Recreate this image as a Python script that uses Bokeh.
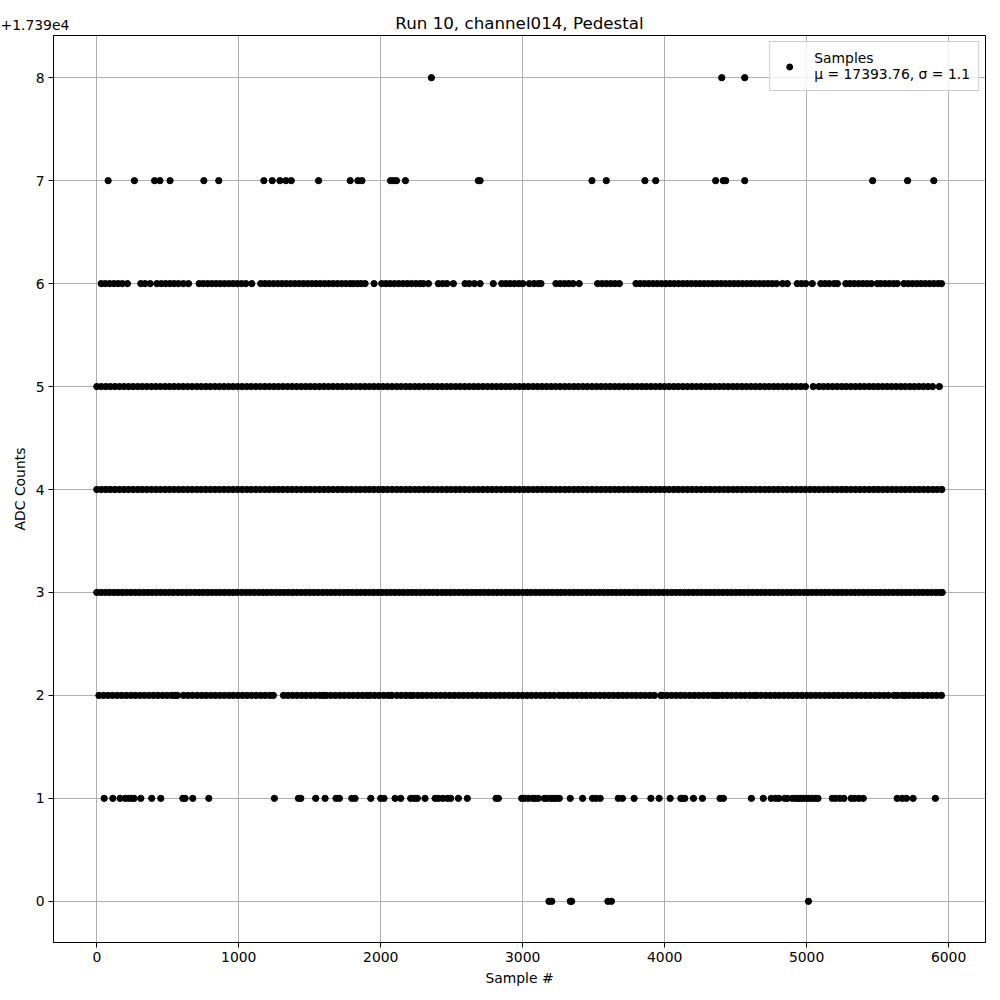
from bokeh.plotting import figure
from bokeh.models import (ColumnDataSource, Range1d, FixedTicker, CustomJSTickFormatter,
                          Label, Legend, LegendItem)
from bokeh.embed import file_html
from bokeh.resources import INLINE

# ---------------- data ----------------
BASE = 17390
TITLE = "Run 10, channel014, Pedestal"
X_LABEL = "Sample #"
Y_LABEL = "ADC Counts"
OFFSET_TEXT = "+1.739e4"
LEGEND_TEXT = "Samples\nμ = 17393.76, σ = 1.1"
x_ticks = [0, 1000, 2000, 3000, 4000, 5000, 6000]
y_ticks = [17390, 17391, 17392, 17393, 17394, 17395, 17396, 17397, 17398]

# sample indices of samples at each ADC value
samples_17398 = [2357, 4402, 4564]
samples_17397 = [80, 265, 407, 445, 516, 754, 859, 1177, 1236, 1290, 1332, 1370, 1562, 1785,
                 1839, 1868, 2069, 2090, 2111, 2174, 2688, 2700, 3488, 3589, 3861, 3937, 4359,
                 4413, 4430, 4564, 5465, 5711, 5896]
samples_17396 = [31, 60, 90, 120, 150, 180, 216, 310, 340, 376, 423, 455, 485, 515, 545, 575, 610,
                 646, 721, 750, 780, 810, 840, 870, 900, 930, 960, 990, 1020, 1050, 1092, 1155,
                 1185, 1215, 1245, 1275, 1305, 1335, 1365, 1395, 1425, 1455, 1485, 1515, 1545,
                 1575, 1605, 1635, 1665, 1695, 1725, 1755, 1785, 1808, 1836, 1862, 1890, 1953,
                 2007, 2037, 2067, 2097, 2127, 2157, 2187, 2217, 2247, 2277, 2300, 2336, 2406,
                 2436, 2466, 2512, 2594, 2624, 2660, 2700, 2793, 2852, 2882, 2912, 2942, 2972,
                 3000, 3047, 3080, 3110, 3129, 3234, 3265, 3295, 3325, 3355, 3398, 3528, 3560,
                 3590, 3620, 3650, 3681, 3798, 3828, 3858, 3888, 3918, 3948, 3978, 4008, 4038,
                 4068, 4098, 4128, 4158, 4188, 4218, 4248, 4278, 4308, 4338, 4368, 4398, 4428,
                 4458, 4488, 4518, 4548, 4578, 4608, 4638, 4668, 4698, 4728, 4758, 4788, 4830,
                 4864, 4934, 4964, 4994, 5040, 5100, 5130, 5160, 5194, 5217, 5276, 5306, 5336,
                 5366, 5396, 5426, 5456, 5498, 5522, 5552, 5582, 5612, 5639, 5686, 5716, 5746,
                 5776, 5806, 5836, 5866, 5896, 5926, 5950]
samples_17395 = [0, 32, 64, 96, 128, 160, 192, 224, 256, 288, 320, 352, 384, 416, 448, 480, 512,
                 544, 576, 608, 640, 672, 704, 736, 768, 800, 832, 864, 896, 928, 960, 992, 1024,
                 1056, 1088, 1120, 1152, 1184, 1216, 1248, 1280, 1312, 1344, 1376, 1408, 1440,
                 1472, 1504, 1536, 1568, 1600, 1632, 1664, 1696, 1728, 1760, 1792, 1824, 1856,
                 1888, 1920, 1952, 1984, 2016, 2048, 2080, 2112, 2144, 2176, 2208, 2240, 2272,
                 2304, 2336, 2368, 2400, 2432, 2464, 2496, 2528, 2560, 2592, 2624, 2656, 2688,
                 2720, 2752, 2784, 2816, 2848, 2880, 2912, 2944, 2976, 3008, 3040, 3072, 3104,
                 3136, 3168, 3200, 3232, 3264, 3296, 3328, 3360, 3392, 3424, 3456, 3488, 3520,
                 3552, 3584, 3616, 3648, 3680, 3712, 3744, 3776, 3808, 3840, 3872, 3904, 3936,
                 3968, 4000, 4032, 4064, 4096, 4128, 4160, 4192, 4224, 4256, 4288, 4320, 4352,
                 4384, 4416, 4448, 4480, 4512, 4544, 4576, 4608, 4640, 4672, 4704, 4736, 4768,
                 4800, 4832, 4864, 4896, 4928, 4960, 4992, 5047, 5087, 5119, 5151, 5183, 5215,
                 5247, 5279, 5311, 5343, 5375, 5407, 5439, 5471, 5503, 5535, 5567, 5599, 5631,
                 5663, 5695, 5727, 5759, 5791, 5823, 5855, 5887, 5935]
samples_17394 = [0, 32, 64, 96, 128, 160, 192, 224, 256, 288, 320, 352, 384, 416, 448, 480, 512,
                 544, 576, 608, 640, 672, 704, 736, 768, 800, 832, 864, 896, 928, 960, 992, 1024,
                 1056, 1088, 1120, 1152, 1184, 1216, 1248, 1280, 1312, 1344, 1376, 1408, 1440,
                 1472, 1504, 1536, 1568, 1600, 1632, 1664, 1696, 1728, 1760, 1792, 1824, 1856,
                 1888, 1920, 1952, 1984, 2016, 2048, 2080, 2112, 2144, 2176, 2208, 2240, 2272,
                 2304, 2336, 2368, 2400, 2432, 2464, 2496, 2528, 2560, 2592, 2624, 2656, 2688,
                 2720, 2752, 2784, 2816, 2848, 2880, 2912, 2944, 2976, 3008, 3040, 3072, 3104,
                 3136, 3168, 3200, 3232, 3264, 3296, 3328, 3360, 3392, 3424, 3456, 3488, 3520,
                 3552, 3584, 3616, 3648, 3680, 3712, 3744, 3776, 3808, 3840, 3872, 3904, 3936,
                 3968, 4000, 4032, 4064, 4096, 4128, 4160, 4192, 4224, 4256, 4288, 4320, 4352,
                 4384, 4416, 4448, 4480, 4512, 4544, 4576, 4608, 4640, 4672, 4704, 4736, 4768,
                 4800, 4832, 4864, 4896, 4928, 4960, 4992, 5024, 5056, 5088, 5120, 5152, 5184,
                 5216, 5248, 5280, 5312, 5344, 5376, 5408, 5440, 5472, 5504, 5536, 5568, 5600,
                 5632, 5664, 5696, 5728, 5760, 5792, 5824, 5856, 5888, 5920, 5952]
samples_17393 = [0, 30, 60, 90, 120, 150, 180, 210, 240, 270, 300, 330, 360, 390, 420, 450, 480,
                 510, 540, 570, 600, 630, 660, 690, 720, 750, 780, 810, 840, 870, 900, 930, 960,
                 990, 1020, 1050, 1080, 1110, 1140, 1170, 1200, 1230, 1260, 1290, 1320, 1350,
                 1380, 1410, 1440, 1470, 1500, 1530, 1560, 1590, 1620, 1650, 1680, 1710, 1740,
                 1770, 1800, 1830, 1860, 1890, 1920, 1950, 1980, 2010, 2040, 2070, 2100, 2130,
                 2160, 2190, 2220, 2250, 2280, 2310, 2340, 2370, 2400, 2430, 2460, 2490, 2520,
                 2550, 2580, 2610, 2640, 2670, 2700, 2730, 2760, 2790, 2820, 2850, 2880, 2910,
                 2940, 2970, 3000, 3030, 3060, 3090, 3120, 3150, 3180, 3210, 3240, 3270, 3300,
                 3330, 3360, 3390, 3420, 3450, 3480, 3510, 3540, 3570, 3600, 3630, 3660, 3690,
                 3720, 3750, 3780, 3810, 3840, 3870, 3900, 3930, 3960, 3990, 4020, 4050, 4080,
                 4110, 4140, 4170, 4200, 4230, 4260, 4290, 4320, 4350, 4380, 4410, 4440, 4470,
                 4500, 4530, 4560, 4590, 4620, 4650, 4680, 4710, 4740, 4770, 4800, 4830, 4860,
                 4890, 4920, 4950, 4980, 5010, 5040, 5070, 5100, 5130, 5160, 5190, 5220, 5250,
                 5280, 5310, 5340, 5370, 5400, 5430, 5460, 5490, 5520, 5550, 5580, 5610, 5640,
                 5670, 5700, 5730, 5760, 5790, 5820, 5850, 5880, 5910, 5940, 5955]
samples_17392 = [15, 47, 79, 111, 143, 175, 207, 239, 271, 303, 335, 367, 399, 431, 463, 495,
                 527, 552, 568, 610, 642, 674, 706, 738, 770, 802, 834, 866, 898, 930, 962, 994,
                 1026, 1058, 1090, 1122, 1154, 1186, 1218, 1244, 1315, 1347, 1379, 1411, 1443,
                 1475, 1507, 1539, 1571, 1596, 1615, 1647, 1679, 1711, 1743, 1775, 1807, 1839,
                 1871, 1901, 1925, 1957, 1989, 2021, 2053, 2077, 2113, 2145, 2177, 2207, 2230,
                 2262, 2294, 2326, 2358, 2390, 2422, 2454, 2486, 2518, 2550, 2582, 2614, 2646,
                 2678, 2710, 2742, 2774, 2806, 2838, 2870, 2902, 2934, 2966, 2998, 3030, 3062,
                 3094, 3126, 3158, 3190, 3222, 3258, 3288, 3320, 3352, 3384, 3416, 3448, 3480,
                 3512, 3544, 3576, 3608, 3640, 3672, 3704, 3736, 3768, 3800, 3832, 3864, 3896,
                 3928, 3973, 3985, 4017, 4049, 4081, 4113, 4145, 4177, 4209, 4241, 4273, 4305,
                 4337, 4360, 4376, 4407, 4439, 4471, 4503, 4535, 4567, 4599, 4630, 4648, 4680,
                 4712, 4744, 4776, 4808, 4840, 4872, 4904, 4936, 4968, 5000, 5032, 5064, 5096,
                 5128, 5160, 5192, 5224, 5256, 5288, 5320, 5352, 5384, 5416, 5448, 5480, 5512,
                 5544, 5576, 5614, 5640, 5672, 5696, 5724, 5756, 5788, 5820, 5852, 5884, 5916,
                 5950]
samples_17391 = [52, 113, 164, 200, 223, 246, 263, 310, 387, 451, 606, 622, 676, 789, 1251, 1420,
                 1437, 1542, 1608, 1685, 1709, 1796, 1819, 1930, 2000, 2023, 2101, 2141, 2211,
                 2235, 2258, 2312, 2383, 2406, 2437, 2469, 2493, 2547, 2610, 2812, 2829, 2993,
                 3012, 3040, 3070, 3087, 3110, 3152, 3171, 3199, 3218, 3234, 3258, 3335, 3422,
                 3492, 3516, 3546, 3673, 3703, 3785, 3903, 3961, 4039, 4114, 4125, 4142, 4203,
                 4266, 4390, 4414, 4611, 4695, 4751, 4782, 4805, 4845, 4864, 4899, 4923, 4939,
                 4958, 4977, 5000, 5016, 5040, 5063, 5080, 5181, 5204, 5234, 5263, 5314, 5338,
                 5368, 5399, 5638, 5673, 5703, 5750, 5907]
samples_17390 = [3185, 3205, 3335, 3345, 3600, 3625, 5013]

# ---------------- build source ----------------
levels = [
    (17390, samples_17390), (17391, samples_17391), (17392, samples_17392),
    (17393, samples_17393), (17394, samples_17394), (17395, samples_17395),
    (17396, samples_17396), (17397, samples_17397), (17398, samples_17398),
]
xs, ys = [], []
for adc, idx in levels:
    xs.extend(idx)
    ys.extend([adc] * len(idx))
src = ColumnDataSource(dict(x=xs, y=ys))

FONT = "DejaVu Sans"

p = figure(width=1000, height=1000, output_backend="svg", toolbar_location=None,
           x_range=Range1d(-305, 6260), y_range=Range1d(BASE - 0.40, BASE + 8.41),
           min_border_left=53, min_border_right=15, min_border_top=35, min_border_bottom=58)
p.title.text = TITLE
p.title.align = "center"
p.title.text_font = FONT
p.title.text_font_size = "16.7px"
p.title.text_font_style = "normal"
p.title.text_color = "black"
p.title.offset = 0
p.title.standoff = 5

r = p.scatter("x", "y", source=src, size=6.3, color="black", marker="circle")

# axes
p.xaxis.ticker = FixedTicker(ticks=x_ticks)
p.yaxis.ticker = FixedTicker(ticks=y_ticks)
p.yaxis.formatter = CustomJSTickFormatter(code="return (tick - %d).toFixed(0);" % BASE)
p.xaxis.axis_label = X_LABEL
p.yaxis.axis_label = Y_LABEL
for ax in (p.xaxis[0], p.yaxis[0]):
    ax.axis_label_text_font = FONT
    ax.axis_label_text_font_size = "13.9px"
    ax.axis_label_text_font_style = "normal"
    ax.axis_label_text_color = "black"
    ax.major_label_text_font = FONT
    ax.major_label_text_font_size = "13.9px"
    ax.major_label_text_color = "black"
    ax.major_tick_in = 0
    ax.major_tick_out = 5
    ax.minor_tick_in = 0
    ax.minor_tick_out = 0
    ax.axis_line_color = "black"
    ax.major_tick_line_color = "black"
    ax.major_label_standoff = 4
    ax.axis_label_standoff = 5
p.outline_line_color = "black"
p.outline_line_alpha = 1
p.grid.grid_line_color = "#b0b0b0"
p.grid.grid_line_width = 1

# offset text: kept in a side panel (not clipped there), drawn up at the top-left corner
offset_label = Label(x=-53, y=969, x_units="screen", y_units="screen", text=OFFSET_TEXT,
                     text_align="left", text_baseline="bottom", text_font=FONT,
                     text_font_size="13.9px", text_color="black")
p.below.append(offset_label)

# legend
leg = Legend(items=[LegendItem(label=LEGEND_TEXT, renderers=[r])], location="top_right",
             label_text_font=FONT, label_text_font_size="13.9px", label_text_color="black",
             border_line_color="#cccccc", border_line_alpha=1,
             background_fill_alpha=0.8, padding=8, glyph_width=22, glyph_height=15,
             label_standoff=14, margin=6)
p.add_layout(leg)

open("out.html", "w").write(file_html(p, INLINE))
